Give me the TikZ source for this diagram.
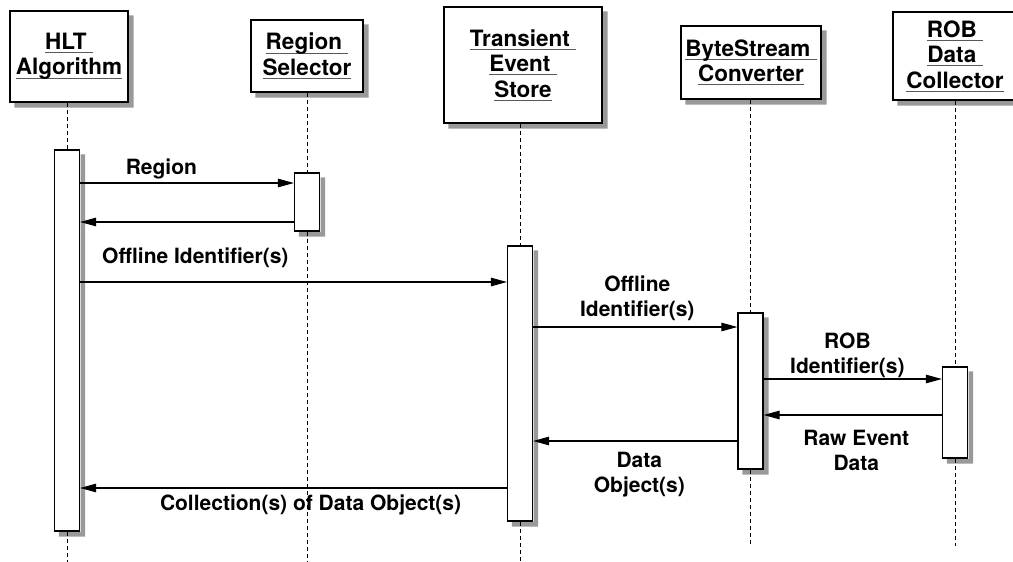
\documentclass[tikz,border=0pt]{standalone}
\usepackage{fontspec}
\setmainfont{TeX Gyre Heros}
\usetikzlibrary{positioning, arrows.meta}
\tikzstyle{Msg} = [
%message arrow with filled head
line width=1.1pt,
-{Triangle[length=16pt, width=8.5pt]}
]
\newcommand{\uword}[1]{\sbox0{#1}\rlap{\color{black!65}\rule[-3.6pt]{\wd0}{0.9pt}}\usebox0}

\begin{document}
\begin{tikzpicture}[x=1pt, y=-1pt,
			objbox/.style = {rectangle, draw, line width=1.2pt, fill=white, align=center, inner sep=0pt, font=\fontsize{22.5}{25.5}\selectfont\bfseries},
			actbar/.style = {rectangle, draw, line width=1.2pt, fill=white, inner sep=0pt, minimum width=25pt},
			lifeline/.style = {line width=1pt, dash pattern=on 4pt off 3pt},
			msgtext/.style = {align=center, inner sep=2pt, font=\fontsize{21}{25}\selectfont\bfseries},
			dropped/.style = {fill=black, fill opacity=0.4, draw=none},
		]
		\useasboundingbox (0,0) rectangle (1013,562);
		\coordinate(low) at (0,562);
		\coordinate(lowR) at (0,546);

		% objects
		\node[objbox, minimum width=118pt, minimum height=91pt](hlt) at (69,56.5){\uword{HLT\ }\\\uword{Algorithm}};
		\node[objbox, minimum width=112pt, minimum height=72pt](region) at (307,56){\uword{Region\ }\\\uword{Selector}};
		\node[objbox, minimum width=158pt, minimum height=116pt](store) at (523,65){\uword{Transient\ }\\\uword{Event\ }\\\uword{Store}};
		\node[objbox, minimum width=140pt, minimum height=73pt](conv) at (751,62.5){\uword{ByteStream\ }\\\uword{Converter}};
		\node[objbox, minimum width=124pt, minimum height=88pt](rob) at (955,56){\uword{ROB\ }\\\uword{Data\ }\\\uword{Collector}};

		% activation bars
		\node[actbar, minimum height=381pt](hltbar) at (67,340.5){};
		\node[actbar, minimum height=58pt](regbar) at (307,202){};
		\node[actbar, minimum height=275pt](storebar) at (520,383.5){};
		\node[actbar, minimum height=156pt](convbar) at (750.5,391){};
		\node[actbar, minimum height=91pt](robbar) at (955,412.5){};

		% lifelines
		\draw[lifeline](hltbar |- hlt.south)--(hltbar.north);
		\draw[lifeline](hltbar.south)--(hltbar |- low);
		\draw[lifeline](regbar |- region.south)--(regbar.north);
		\draw[lifeline](regbar.south)--(regbar |- low);
		\draw[lifeline](storebar |- store.south)--(storebar.north);
		\draw[lifeline](storebar.south)--(storebar |- low);
		\draw[lifeline](convbar |- conv.south)--(convbar.north);
		\draw[lifeline](convbar.south)--(convbar |- lowR);
		\draw[lifeline](robbar |- rob.south)--(robbar.north);
		\draw[lifeline](robbar.south)--(robbar |- lowR);

		% shadows along the right and lower sides
		\foreach \n in {hlt,region,store,conv,rob,hltbar,regbar,storebar,convbar,robbar}{
			\path[dropped]([xshift=0.6pt, yshift=-5pt]\n.north east) -- ([xshift=5pt, yshift=-5pt]\n.north east) -- ([xshift=5pt, yshift=-5pt]\n.south east) -- ([xshift=5pt, yshift=-5pt]\n.south west) -- ([xshift=5pt, yshift=-0.6pt]\n.south west) -- ([xshift=0.6pt, yshift=-0.6pt]\n.south east) -- cycle;
		}

		% messages
		\draw[Msg](hltbar.east |- 0,183)--node[pos=0.38, above=1.3pt, msgtext]{Region}(regbar.west |- 0,183);
		\draw[Msg](regbar.west |- 0,222)--(hltbar.east |- 0,222);
		\draw[Msg](hltbar.east |- 0,282)--node[pos=0.27, above=11.3pt, msgtext]{Offline Identifier(s)}(storebar.west |- 0,282);
		\draw[Msg](storebar.east |- 0,327)--node[pos=0.51, above=4pt, msgtext]{Offline\\Identifier(s)}(convbar.west |- 0,327);
		\draw[Msg](convbar.east |- 0,379)--node[pos=0.47, above=-1.6pt, msgtext]{ROB\\Identifier(s)}(robbar.west |- 0,379);
		\draw[Msg](robbar.west |- 0,415)--node[pos=0.48, below=12.6pt, msgtext]{Raw Event\\Data}(convbar.east |- 0,415);
		\draw[Msg](convbar.west |- 0,441)--node[pos=0.48, below=8.7pt, msgtext]{Data\\Object(s)}(storebar.east |- 0,441);
		\draw[Msg](storebar.west |- 0,488)--node[pos=0.46, below=4.5pt, msgtext]{Collection(s) of Data Object(s)}(hltbar.east |- 0,488);

	\end{tikzpicture}
\end{document}
